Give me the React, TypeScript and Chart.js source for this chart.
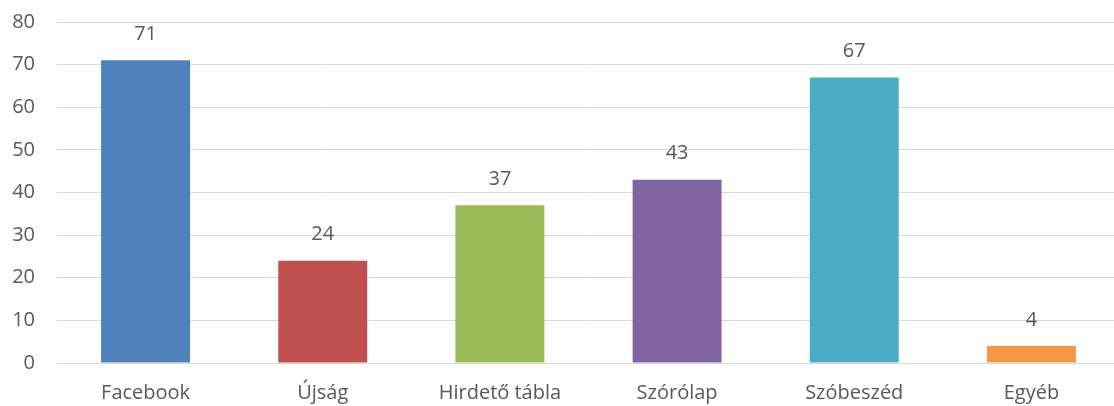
import React, { useEffect, useRef } from "react";
import { Chart, registerables } from "chart.js";

Chart.register(...registerables);

const categories = ["Facebook", "Újság", "Hirdető tábla", "Szórólap", "Szóbeszéd", "Egyéb"];
const values = [71, 24, 37, 43, 67, 4];
const barColors = ["#4F81BD", "#C0504D", "#9BBB59", "#8064A2", "#4BACC6", "#F79646"];
const yTicks = [0, 10, 20, 30, 40, 50, 60, 70, 80];

const FONT = "'Open Sans', sans-serif";
const TEXT = "#595959";

const valueLabels = {
  id: "valueLabels",
  afterDatasetsDraw(chart: any) {
    const ctx = chart.ctx;
    const meta = chart.getDatasetMeta(0);
    ctx.save();
    ctx.font = `20px ${FONT}`;
    ctx.fillStyle = TEXT;
    ctx.textAlign = "center";
    ctx.textBaseline = "middle";
    meta.data.forEach((bar: any, i: number) => {
      ctx.fillText(String(values[i]), bar.x, bar.y - 26);
    });
    ctx.restore();
  },
};

export default function App() {
  const ref = useRef<HTMLCanvasElement>(null);
  useEffect(() => {
    const chart = new Chart(ref.current!, {
      type: "bar",
      data: {
        labels: categories,
        datasets: [
          {
            data: values,
            backgroundColor: barColors,
            barPercentage: 1,
            categoryPercentage: 0.502,
          },
        ],
      },
      options: {
        responsive: false,
        animation: false,
        layout: { padding: { top: 22, right: 0, bottom: 0, left: 0 } },
        plugins: { legend: { display: false }, tooltip: { enabled: false } },
        scales: {
          x: {
            grid: { display: false, drawTicks: false },
            border: { color: "#D9D9D9", width: 1 },
            ticks: { color: TEXT, font: { family: FONT, size: 20 }, padding: 18, maxRotation: 0 },
            afterFit: (s: any) => { s.height = 43; s.paddingLeft = 0; s.paddingRight = 0; },
          },
          y: {
            min: 0,
            max: 80,
            afterBuildTicks: (s: any) => { s.ticks = yTicks.map((v) => ({ value: v })); },
            grid: { color: "#D9D9D9", lineWidth: 1, drawTicks: false },
            border: { display: false },
            ticks: { color: TEXT, font: { family: FONT, size: 20 }, padding: 22 },
            afterFit: (s: any) => { s.width = 57; s.paddingTop = 0; s.paddingBottom = 0; },
          },
        },
      },
      plugins: [valueLabels],
    });
    return () => chart.destroy();
  }, []);
  return (
    <div style={{ position: "fixed", left: 0, top: 0, width: 1114, height: 406, overflow: "hidden", background: "#fff" }}>
      <canvas ref={ref} width={1120} height={406} />
    </div>
  );
}
